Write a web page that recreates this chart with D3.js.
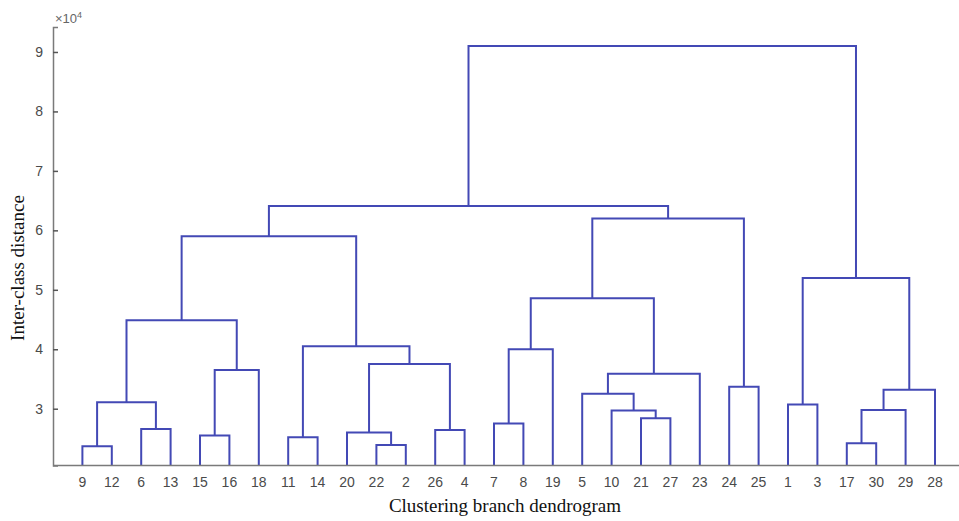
<!DOCTYPE html>
<html><head><meta charset="utf-8">
<script src="https://cdn.jsdelivr.net/npm/d3@7"></script>
<style>body{margin:0;background:#fff}svg{display:block}</style>
</head><body>
<svg id="c" width="959" height="521"></svg>
<script>
// leaf labels in display order
const leafLabels = [9,12,6,13,15,16,18,11,14,20,22,2,26,4,7,8,19,5,10,21,27,23,24,25,1,3,17,30,29,28];
// linkage: [childA, childB, height(x1e4)]; ids 0..29 = leaves, 30+ = merged clusters in order
const linkage = [
  [0,1,2.37],[10,11,2.39],[26,27,2.42],[7,8,2.52],[4,5,2.55],
  [9,31,2.60],[12,13,2.64],[2,3,2.66],[14,15,2.75],[19,20,2.84],
  [18,39,2.97],[32,28,2.98],[24,25,3.07],[30,37,3.11],[17,40,3.25],
  [41,29,3.32],[22,23,3.37],[44,21,3.59],[34,6,3.65],[35,36,3.75],
  [38,16,4.00],[33,49,4.05],[43,48,4.49],[50,47,4.86],[42,45,5.20],
  [52,51,5.90],[53,46,6.20],[55,56,6.41],[57,54,9.10]
];
const yTicks = [3,4,5,6,7,8,9];

const svg = d3.select("#c");
const x = d3.scaleLinear().domain([0,31]).range([53, 53+31*29.4]);
const y = d3.scaleLinear().domain([2.045, 9.42]).range([465.5, 27]);

const n = leafLabels.length;
const nodeX = [], nodeH = [];
for (let i=0;i<n;i++){ nodeX.push(x(i+1)); nodeH.push(y.domain()[0]); }
linkage.forEach(([a,b,h])=>{ nodeX.push((nodeX[a]+nodeX[b])/2); nodeH.push(h); });

const lineColor = "#4349b5";
const g = svg.append("g");
g.selectAll("path.link").data(linkage).join("path")
  .attr("class","link")
  .attr("fill","none")
  .attr("stroke",lineColor)
  .attr("stroke-width",2)
  .attr("d",([a,b,h])=>`M${nodeX[a]},${y(nodeH[a])}V${y(h)}H${nodeX[b]}V${y(nodeH[b])}`);

// y axis
const yAxis = d3.axisLeft(y).tickValues(yTicks).tickSize(-5).tickPadding(10).tickFormat(d3.format("d"));
const ya = svg.append("g").attr("transform","translate(53,0)").call(yAxis);
ya.select(".domain").attr("stroke","#7a7a7a").attr("stroke-width",1.5);
ya.selectAll(".tick line").attr("stroke","#555").attr("stroke-width",1.5);
ya.selectAll(".tick text").attr("fill","#4a4a4a").style("font-family","Liberation Sans, Arial").style("font-size","14px");

// x axis line
svg.append("line").attr("x1",x(0)).attr("x2",x(31)).attr("y1",y.range()[0]).attr("y2",y.range()[0])
  .attr("stroke","#7a7a7a").attr("stroke-width",1.5);

// leaf labels
svg.selectAll("text.leaf").data(leafLabels).join("text")
  .attr("class","leaf")
  .attr("x",(d,i)=>x(i+1))
  .attr("y",487)
  .attr("text-anchor","middle")
  .attr("fill","#4a4a4a")
  .style("font-family","Liberation Sans, Arial")
  .style("font-size","14px")
  .text(d=>d);

// multiplier
const m = svg.append("text").attr("x",55).attr("y",23).attr("fill","#666")
  .style("font-family","Liberation Sans, Arial").style("font-size","13px");
m.append("tspan").text("×10");
m.append("tspan").attr("dy",-5).style("font-size","9px").text("4");

// axis titles
svg.append("text").attr("x",505).attr("y",512).attr("text-anchor","middle")
  .style("font-family","Liberation Serif, Times New Roman").style("font-size","19px").attr("fill","#111")
  .text("Clustering branch dendrogram");
svg.append("text").attr("transform","translate(24,268) rotate(-90)").attr("text-anchor","middle")
  .style("font-family","Liberation Serif, Times New Roman").style("font-size","19px").attr("fill","#111")
  .text("Inter-class distance");
</script>
</body></html>
